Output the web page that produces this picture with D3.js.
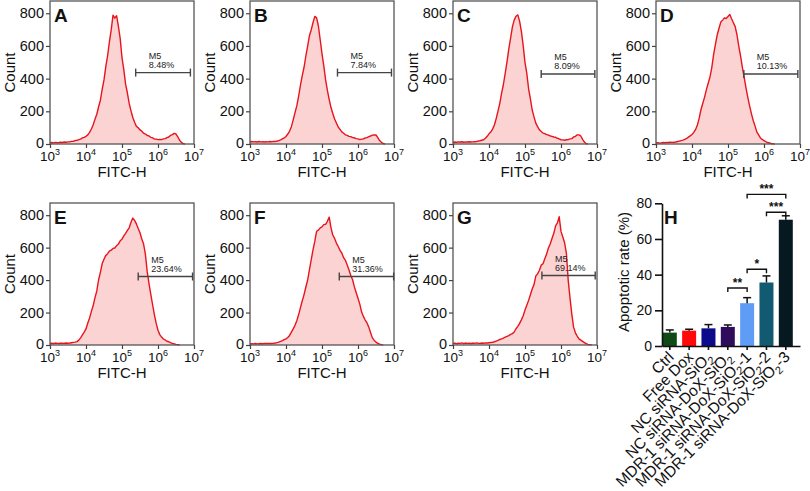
<!DOCTYPE html>
<html><head><meta charset="utf-8">
<script src="https://cdn.jsdelivr.net/npm/d3@7"></script>
<style>body{margin:0;background:#fff}svg{display:block;font-family:"Liberation Sans",Arial,sans-serif}</style>
</head><body><svg id="c" width="810" height="491"></svg>
<script>
// ---------- DATA ----------
const panelLetters = ["A","B","C","D","E","F","G"];
const gatePercents = ["8.48%","7.84%","8.09%","10.13%","23.64%","31.36%","69.14%"];
const gateStartLog = [5.38,5.43,5.45,5.44,5.45,5.48,5.47];
const gateEndLog   = [6.90,6.93,6.94,6.94,6.96,6.99,6.95];
const gateCount    = [437,437,428,428,422,422,428];
const xTickExponents = [3,4,5,6,7];
const yTickCounts = [0,200,400,600,800];
// histogram counts, one value per 0.05 decade from 10^3 to 10^7
const countsA = [6,9,7,10,8,9,11,9,12,11,13,14,16,17,21,22,27,30,37,41,47,56,71,92,118,152,182,228,268,335,392,474,540,625,698,788,770,785,720,645,528,455,366,312,248,203,162,133,108,99,86,79,66,61,53,49,41,37,31,30,27,28,27,31,33,39,43,53,57,65,61,44,23,10,2,0,0,0,0,0,0];
const countsB = [12,15,13,14,12,15,13,14,12,14,13,15,14,16,15,18,20,25,31,37,46,61,79,106,148,192,233,292,358,417,468,537,598,662,698,742,781,772,722,638,552,478,392,328,272,223,187,153,129,104,89,74,66,56,53,47,45,39,38,33,31,27,30,31,37,39,45,49,54,56,55,39,21,10,3,0,0,0,0,0,0];
const countsC = [10,12,11,13,12,14,11,13,12,14,12,13,14,15,18,20,23,26,35,47,62,73,91,116,156,201,249,311,364,432,503,582,648,717,758,782,790,752,688,602,498,432,338,276,208,166,128,106,87,77,67,63,57,55,49,47,43,41,35,31,26,25,23,26,27,31,33,43,47,56,56,49,28,12,2,0,0,0,0,0,0];
const countsD = [6,8,5,7,9,8,10,9,11,10,11,12,15,18,21,24,28,34,42,50,58,71,89,116,158,211,249,287,333,372,411,468,547,608,667,708,746,758,772,768,780,792,766,742,718,667,598,537,468,406,343,286,233,186,144,111,74,56,37,28,20,14,9,6,3,1,0,0,0,0,0,0,0,0,0,0,0,0,0,0,0];
const countsE = [8,11,9,12,10,9,12,10,11,12,11,12,14,16,18,21,30,44,62,79,99,136,167,207,243,292,333,402,448,502,528,552,563,578,584,595,598,612,622,642,652,672,688,706,722,756,782,768,746,718,692,653,622,558,452,378,312,248,186,133,91,64,49,37,31,23,20,14,10,7,4,2,0,0,0,0,0,0,0,0,0];
const countsF = [6,8,7,9,7,8,9,8,9,10,9,10,9,10,12,15,18,22,27,33,38,46,59,79,99,121,149,186,229,271,309,356,399,463,524,586,638,701,708,722,728,742,744,762,788,722,678,657,628,607,583,567,538,522,493,462,428,402,358,322,288,252,203,176,154,136,110,76,44,28,18,10,5,2,0,0,0,0,0,0,0];
const countsG = [9,12,8,11,10,13,9,12,10,11,9,12,10,13,11,10,12,11,13,12,14,15,17,20,24,28,34,38,43,48,53,58,65,70,80,100,115,133,155,180,215,245,275,310,345,372,425,438,461,492,501,532,560,598,622,656,688,734,752,790,700,665,630,565,400,290,190,110,75,55,38,30,22,15,8,4,2,0,0,0,0];

const barCategories = ["Ctrl","Free Dox","NC siRNA-SiO2","NC siRNA-DoX-SiO2","MDR-1 siRNA-DoX-SiO2-1","MDR-1 siRNA-DoX-SiO2-2","MDR-1 siRNA-DoX-SiO2-3"];
const barValues = [7.5,8.6,9.9,10.7,24.0,35.6,70.8];
const barErrors = [1.5,0.8,2.1,1.1,3.1,3.7,2.2];
const barColors = ["#0f4a16","#ff0a0a","#0b0b8c","#2f0c5c","#5e9cf6","#115a72","#061820"];
const barYTicks = [0,20,40,60,80];
const sigFrom = [3,4,5,4];
const sigTo   = [4,5,6,6];
const sigLevel = [32.5,43,75,85];
const sigLabel = ["**","*","***","***"];

// ---------- DRAW ----------
const svg = d3.select("#c");
const FONT = '"Liberation Sans",Arial,sans-serif';
const cols = [50,250,453,656];
const rowTop = [1,203], rowBot = [144,345];
const PW = 144;
const allCounts = [countsA,countsB,countsC,countsD,countsE,countsF,countsG];
const pos = [[0,0],[0,1],[0,2],[0,3],[1,0],[1,1],[1,2]];

allCounts.forEach((counts,p)=>{
  const [r,c] = pos[p];
  const left = cols[c], right = left+PW, top = rowTop[r], bot = rowBot[r];
  const x = d3.scaleLog().domain([1e3,1e7]).range([left,right]);
  const y = d3.scaleLinear().domain([0,875]).range([bot,top]);
  const g = svg.append("g");
  const pts = counts.map((v,i)=>[Math.pow(10,3+i*0.05),v]);
  let last = counts.length-1; while(last>0 && counts[last]===0) last--;
  const vis = pts.slice(0, Math.min(pts.length,last+2));
  g.append("path").datum(vis)
    .attr("d", d3.area().x(d=>x(d[0])).y0(bot).y1(d=>y(d[1])))
    .attr("fill","#fcd3d3");
  g.append("path").datum(vis)
    .attr("d", d3.line().x(d=>x(d[0])).y(d=>y(d[1])))
    .attr("fill","none").attr("stroke","#e8141c").attr("stroke-width",1.4).attr("stroke-linejoin","round");
  g.append("rect").attr("x",left).attr("y",top).attr("width",PW).attr("height",bot-top)
    .attr("fill","none").attr("stroke","#555").attr("stroke-width",1.3);
  const ax = g.append("g").attr("transform",`translate(0,${bot})`)
    .call(d3.axisBottom(x).tickValues(xTickExponents.map(e=>Math.pow(10,e))).tickFormat("").tickSize(4).tickSizeOuter(0));
  ax.select(".domain").remove();
  ax.selectAll("line").attr("stroke","#444").attr("stroke-width",1.2);
  const ay = g.append("g").attr("transform",`translate(${left},0)`)
    .call(d3.axisLeft(y).tickValues(yTickCounts).tickFormat("").tickSize(4).tickSizeOuter(0));
  ay.select(".domain").remove();
  ay.selectAll("line").attr("stroke","#444").attr("stroke-width",1.2);
  xTickExponents.forEach(e=>{
    const t = g.append("text").attr("x",x(Math.pow(10,e))).attr("y",bot+16.5)
      .attr("text-anchor","middle").attr("font-size",13.5).attr("fill","#111");
    t.append("tspan").text("10");
    t.append("tspan").attr("dy",-5.5).attr("font-size",9).text(e);
  });
  yTickCounts.forEach(v=>{
    g.append("text").attr("x",left-6).attr("y",y(v)+(v===0?3.5:5)).attr("text-anchor","end")
      .attr("font-size",14.5).attr("fill","#111").text(v);
  });
  g.append("text").attr("x",(left+right)/2).attr("y",bot+33).attr("text-anchor","middle")
    .attr("font-size",15).attr("fill","#111").text("FITC-H");
  g.append("text").attr("transform",`translate(${left-35},${(top+bot)/2}) rotate(-90)`)
    .attr("text-anchor","middle").attr("font-size",15).attr("fill","#111").text("Count");
  g.append("text").attr("x",left+4).attr("y",top+21).attr("font-size",19).attr("font-weight","bold")
    .attr("fill","#111").text(panelLetters[p]);
  const gx0 = x(Math.pow(10,gateStartLog[p])), gx1 = x(Math.pow(10,gateEndLog[p])), gy = y(gateCount[p]);
  g.append("line").attr("x1",gx0).attr("x2",gx1).attr("y1",gy).attr("y2",gy).attr("stroke","#444").attr("stroke-width",1.4);
  [gx0,gx1].forEach(xx=>g.append("line").attr("x1",xx).attr("x2",xx).attr("y1",gy-4).attr("y2",gy+4).attr("stroke","#444").attr("stroke-width",1.4));
  g.append("text").attr("x",gx0+13).attr("y",gy-14).attr("font-size",9).attr("fill","#222").text("M5");
  g.append("text").attr("x",gx0+13).attr("y",gy-5).attr("font-size",9).attr("fill","#222").text(gatePercents[p]);
});

// ---------- BAR CHART H ----------
const hx = d3.scaleBand().domain(barCategories).range([662,800]).paddingInner(0.276).paddingOuter(0.207).align(0.1);
const hy = d3.scaleLinear().domain([0,80]).range([346,203.3]);
const hg = svg.append("g");
hg.selectAll("rect.bar").data(barCategories).enter().append("rect")
  .attr("x",d=>hx(d)).attr("width",hx.bandwidth())
  .attr("y",(d,i)=>hy(barValues[i])).attr("height",(d,i)=>hy(0)-hy(barValues[i]))
  .attr("fill",(d,i)=>barColors[i]);
barCategories.forEach((c,i)=>{
  const cx = hx(c)+hx.bandwidth()/2;
  const yt = hy(barValues[i]+barErrors[i]);
  hg.append("line").attr("x1",cx).attr("x2",cx).attr("y1",hy(barValues[i])).attr("y2",yt).attr("stroke","#111").attr("stroke-width",1.5);
  hg.append("line").attr("x1",cx-4).attr("x2",cx+4).attr("y1",yt).attr("y2",yt).attr("stroke","#111").attr("stroke-width",1.5);
});
const hax = hg.append("g").attr("transform","translate(0,346)")
  .call(d3.axisBottom(hx).tickSize(4).tickSizeOuter(0).tickFormat(""));
hax.selectAll("path,line").attr("stroke","#111").attr("stroke-width",1.6);
const hay = hg.append("g").attr("transform","translate(662,0)")
  .call(d3.axisLeft(hy).tickValues(barYTicks).tickSize(7).tickSizeOuter(0));
hay.selectAll("path,line").attr("stroke","#111").attr("stroke-width",1.6);
hay.selectAll("text").attr("font-size",14).attr("font-family",FONT).attr("fill","#111");
hg.append("text").attr("x",664).attr("y",224).attr("font-size",19).attr("font-weight","bold").attr("fill","#111").text("H");
hg.append("text").attr("transform","translate(629,272) rotate(-90)").attr("text-anchor","middle")
  .attr("font-size",15).attr("fill","#111").text("Apoptotic rate (%)");
barCategories.forEach(c=>{
  const cx = hx(c)+hx.bandwidth()/2;
  const t = hg.append("text").attr("transform",`translate(${cx+5},358) rotate(-45)`)
    .attr("text-anchor","end").attr("font-size",15.5).attr("fill","#111");
  const parts = c.split("SiO2");
  parts.forEach((s,k)=>{
    if(s) t.append("tspan").text(s);
    if(k<parts.length-1){
      t.append("tspan").text("SiO");
      t.append("tspan").attr("dy",4).attr("font-size",11).text("2");
      t.append("tspan").attr("dy",-4).text("\u200B");
    }
  });
});
sigLabel.forEach((s,k)=>{
  const x0 = hx(barCategories[sigFrom[k]])+hx.bandwidth()/2;
  const x1 = hx(barCategories[sigTo[k]])+hx.bandwidth()/2;
  const yy = hy(sigLevel[k]);
  hg.append("path").attr("d",`M${x0},${yy+4}V${yy}H${x1}V${yy+4}`).attr("fill","none").attr("stroke","#111").attr("stroke-width",1.4);
  hg.append("text").attr("x",(x0+x1)/2).attr("y",yy-1).attr("text-anchor","middle").attr("font-size",12).attr("font-weight","bold").attr("fill","#111").text(s);
});
</script></body></html>
